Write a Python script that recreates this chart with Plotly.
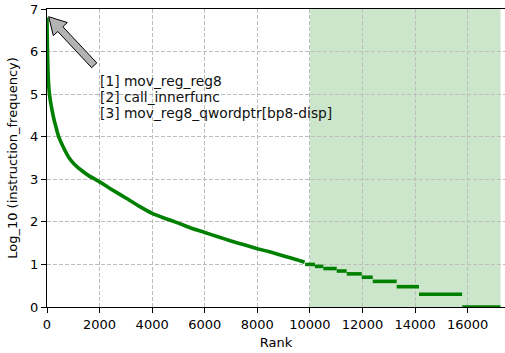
import numpy as np
import plotly.graph_objects as go

# ---- data ----
curve_rank = [0, 5, 12, 22, 35, 50, 70, 100, 140, 190, 250, 330, 444, 600, 823, 1050,
              1330, 1600, 1890, 2000, 2410, 3000, 3500, 4000, 4500, 5000, 5500,
              6000, 6500, 7000, 7500, 8000, 8500, 9000, 9500, 9800]
curve_value = [6.8, 6.5, 6.2, 5.9, 5.6, 5.35, 5.15, 4.97, 4.8, 4.63, 4.45, 4.25, 4.0, 3.78,
               3.52, 3.35, 3.2, 3.08, 2.98, 2.94, 2.78, 2.56, 2.37, 2.2, 2.08, 1.97,
               1.85, 1.75, 1.65, 1.55, 1.46, 1.37, 1.29, 1.2, 1.11, 1.05]

step_freq = [10, 9, 8, 7, 6, 5, 4, 3, 2, 1]
step_start = [9820, 10190, 10510, 11020, 11400, 11970, 12390, 13300, 14150, 15790]
step_end = [10190, 10510, 11020, 11400, 11970, 12390, 13300, 14150, 15790, 17250]

span_start = 10000
span_end = 17250

x_ticks = [0, 2000, 4000, 6000, 8000, 10000, 12000, 14000, 16000]
y_ticks = [0, 1, 2, 3, 4, 5, 6, 7]

annot_lines = ["[1] mov_reg_reg8", "[2] call_innerfunc", "[3] mov_reg8_qwordptr[bp8-disp]"]

# ---- layout constants (screen pixels) ----
W, H = 505, 353
PLOT_L, PLOT_T, PLOT_R, PLOT_B = 47, 9, 505, 307
ML, MT = PLOT_L, PLOT_T
MR = W - PLOT_R
MB = H - PLOT_B
PW, PH = PLOT_R - PLOT_L, PLOT_B - PLOT_T
X_MAX = 17420
FONT = "DejaVu Sans"

fig = go.Figure()

fig.add_trace(go.Scatter(x=curve_rank, y=curve_value, mode="lines",
                         line=dict(color="#008000", width=3.6, shape="spline", smoothing=0.5),
                         showlegend=False, hoverinfo="skip"))

sx, sy = [], []
for s, e, f in zip(step_start, step_end, step_freq):
    v = float(np.log10(f))
    sx += [s, e, None]
    sy += [v, v, None]
fig.add_trace(go.Scatter(x=sx, y=sy, mode="lines",
                         line=dict(color="#008000", width=3.6), showlegend=False,
                         connectgaps=False, hoverinfo="skip"))

# shaded span
fig.add_shape(type="rect", xref="x", yref="y", x0=span_start, x1=span_end, y0=0, y1=7,
              fillcolor="#cce6cc", line=dict(width=0), layer="below")

# fancy arrow (screen-pixel geometry -> paper coords)
tip = np.array([48.7, 16.7])
tail = np.array([94.2, 65.3])
u = (tail - tip) / np.linalg.norm(tail - tip)
n = np.array([u[1], -u[0]])
base = tip + u * 17.0
pts = [tip, base + n * 9.6, base + n * 3.5, tail + n * 3.5, tail - n * 3.5,
       base - n * 3.5, base - n * 9.6]


def to_paper(p):
    return ((p[0] - PLOT_L) / PW, (PLOT_B - p[1]) / PH)


path = "M " + " L ".join(f"{to_paper(p)[0]:.5f},{to_paper(p)[1]:.5f}" for p in pts) + " Z"
fig.add_shape(type="path", xref="paper", yref="paper", path=path,
              fillcolor="#b3b3b3", line=dict(color="black", width=1), layer="above")

# annotation text block: one line each, 16.3px apart
line_centers_px = [80.7, 97.0, 113.3]
for txt, py in zip(annot_lines, line_centers_px):
    fig.add_annotation(x=(99 - PLOT_L) / PW, y=(PLOT_B - py) / PH, xref="paper", yref="paper",
                       text=txt, showarrow=False, xanchor="left", yanchor="middle",
                       align="left", borderpad=0,
                       font=dict(family=FONT, size=13.8, color="#111"))

axis_common = dict(showgrid=True, gridcolor="#bdbdbd", gridwidth=1, griddash="4px,2px",
                   zeroline=False, showline=True, linecolor="black", linewidth=1,
                   ticks="outside", ticklen=5, tickcolor="black",
                   tickfont=dict(family=FONT, size=13, color="black"))

fig.update_xaxes(range=[0, X_MAX], tickvals=x_ticks, tickformat="d", mirror=True,
                 title=dict(text="Rank", font=dict(family=FONT, size=13, color="black"),
                            standoff=7), **axis_common)
fig.update_yaxes(range=[0, 7], tickvals=y_ticks, mirror=False,
                 title=dict(text="Log_10 (instruction_frequency)",
                            font=dict(family=FONT, size=13, color="black"), standoff=9),
                 **axis_common)

fig.update_layout(width=W, height=H, margin=dict(l=ML, r=MR, t=MT, b=MB, autoexpand=False),
                  paper_bgcolor="white", plot_bgcolor="white", showlegend=False)

fig.write_html("out.html", config={"displayModeBar": False, "staticPlot": True},
               post_script="document.body.style.margin='0';document.body.style.overflow='hidden';")
